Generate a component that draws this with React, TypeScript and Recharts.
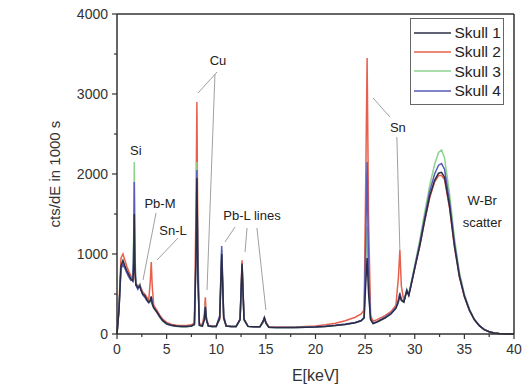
import React from 'react';
import { LineChart, Line, XAxis, YAxis, ReferenceLine, ReferenceDot, Legend } from 'recharts';

const energy = [0,0.2,0.4,0.6,0.8,1.0,1.2,1.4,1.6,1.7,1.74,1.8,1.9,2.1,2.3,2.4,2.6,2.8,3.0,3.2,3.35,3.45,3.55,3.7,4.0,4.3,4.6,5.0,5.5,6.0,6.5,7.0,7.5,7.8,7.95,8.05,8.15,8.3,8.6,8.8,8.9,9.0,9.2,9.6,10.0,10.35,10.55,10.75,11.0,11.5,12.0,12.4,12.6,12.8,13.2,13.8,14.4,14.7,14.85,15.0,15.3,16,17,18,19,20,21,22,23,24,24.6,24.9,25.05,25.2,25.35,25.55,25.8,26.2,27.0,27.6,28.1,28.35,28.5,28.65,28.9,29.2,29.4,29.7,30.0,30.5,31.0,31.5,32.0,32.4,32.7,33.0,33.5,34.0,34.5,35.0,35.5,36.0,36.5,37.0,37.5,38.0,38.5,39.0,40.0];

const skull1 = [0,300,850,920,850,790,740,690,660,900,1500,800,620,580,600,560,500,480,430,400,420,470,380,330,280,220,170,130,110,100,95,95,100,120,900,1950,700,110,100,180,330,180,100,95,95,200,1000,200,100,95,95,180,880,180,95,90,90,150,200,140,85,80,80,82,85,88,95,105,120,140,165,200,600,950,500,180,130,150,200,250,320,400,480,420,400,540,480,650,820,1100,1420,1720,1920,2010,2020,1960,1600,1100,720,470,300,180,105,55,28,12,5,2,0];

const skull2 = [0,350,950,1000,920,840,780,730,690,850,1200,750,640,600,620,580,520,500,460,430,650,900,600,360,300,240,185,145,120,110,105,105,115,140,1500,2900,1100,130,115,250,460,220,110,100,100,180,950,190,100,95,95,190,920,190,95,90,92,160,210,150,90,85,85,88,95,100,115,135,165,210,250,300,1800,3450,1400,230,160,180,230,280,360,700,1050,600,410,540,490,650,820,1100,1410,1700,1900,1980,1980,1930,1580,1090,710,465,295,178,105,55,28,12,5,2,0];

const skull3 = [0,300,800,880,830,770,720,680,700,1400,2150,1100,620,570,620,560,490,470,420,390,400,440,370,320,270,210,160,125,105,95,92,92,98,115,1000,2150,800,105,100,190,360,190,98,92,95,220,1050,220,100,92,92,170,800,170,92,88,90,140,190,130,82,78,78,80,83,87,95,105,120,140,165,200,800,1350,600,180,130,150,205,255,330,420,520,430,400,560,500,680,860,1170,1520,1850,2120,2270,2300,2200,1760,1200,770,500,315,185,108,57,30,13,5,2,0];

const skull4 = [0,300,820,870,820,760,710,670,680,1200,1900,950,610,560,610,550,490,460,420,390,410,460,380,330,275,215,165,125,105,98,95,95,100,118,950,2050,750,110,100,185,350,185,100,95,95,230,1100,230,100,95,95,180,850,180,95,90,90,150,205,140,85,80,80,82,85,90,98,108,125,145,170,210,1100,2150,800,190,135,155,210,260,330,430,510,430,400,550,490,660,840,1130,1460,1780,2000,2110,2130,2060,1660,1140,740,480,305,182,105,56,28,12,5,2,0];

const seriesNames = ['Skull 1', 'Skull 2', 'Skull 3', 'Skull 4'];
const seriesColors = ['#2b2d45', '#e8604c', '#8fd18f', '#5a5ab8'];
const xTicks = [0,2.5,5,7.5,10,12.5,15,17.5,20,22.5,25,27.5,30,32.5,35,37.5,40];
const yTicks = [0,500,1000,1500,2000,2500,3000,3500,4000];

const labels = [
  { text: 'Si', x: 1.9, y: 2300 },
  { text: 'Pb-M', x: 4.33, y: 1637 },
  { text: 'Sn-L', x: 5.64, y: 1300 },
  { text: 'Cu', x: 10.18, y: 3425 },
  { text: 'Pb-L lines', x: 13.6, y: 1487 },
  { text: 'Sn', x: 28.3, y: 2587 },
  { text: 'W-Br', x: 36.8, y: 1675 },
  { text: 'scatter', x: 36.8, y: 1400 },
];

const leaders = [
  [3.93, 1512, 2.62, 675],
  [6.15, 1200, 4.03, 925],
  [10.08, 3275, 8.16, 3012],
  [9.87, 3250, 9.07, 550],
  [11.89, 1337, 10.88, 1150],
  [13.1, 1325, 12.9, 1025],
  [14.1, 1325, 15.0, 300],
  [27.5, 2712, 25.8, 2950],
  [28.2, 2462, 28.5, 1050],
];

const data = energy.map((e, i) => ({ e, s1: skull1[i], s2: skull2[i], s3: skull3[i], s4: skull4[i] }));

const FONT = 'Liberation Sans, Arial, sans-serif';

const XTick = (props: any) => {
  const { x, y, payload } = props;
  const major = payload.value % 5 === 0;
  return (
    <g>
      <line x1={x} x2={x} y1={y} y2={y + (major ? 5 : 3)} stroke="#333" strokeWidth={1.2} />
      {major && (
        <text x={x} y={y + 20} textAnchor="middle" fontSize={14} fill="#333" fontFamily={FONT}>
          {payload.value}
        </text>
      )}
    </g>
  );
};

const YTick = (props: any) => {
  const { x, y, payload } = props;
  const major = payload.value % 1000 === 0;
  return (
    <g>
      <line x1={x} x2={x - (major ? 5 : 3)} y1={y} y2={y} stroke="#333" strokeWidth={1.2} />
      {major && (
        <text x={x - 9} y={y + 5} textAnchor="end" fontSize={14} fill="#333" fontFamily={FONT}>
          {payload.value}
        </text>
      )}
    </g>
  );
};

const renderLegend = () => (
  <div
    style={{
      border: '1px solid #666',
      background: '#fff',
      padding: '4px 2px 4px 0',
      width: 94,
      boxSizing: 'border-box',
      fontFamily: FONT,
    }}
  >
    {seriesNames.map((n, i) => (
      <div key={n} style={{ display: 'flex', alignItems: 'center', height: 19.3 }}>
        <svg width={40} height={6} style={{ display: 'block' }}>
          <line x1={3} x2={40} y1={3} y2={3} stroke={seriesColors[i]} strokeWidth={1.3} />
        </svg>
        <span style={{ flex: 1, textAlign: 'right', fontSize: 15.5, color: '#222', lineHeight: '19px' }}>{n}</span>
      </div>
    ))}
  </div>
);

export default function App() {
  return (
    <div style={{ position: 'absolute', left: 0, top: 0, width: 530, height: 388 }}>
      <LineChart width={530} height={388} data={data} margin={{ top: 14, right: 16, left: 48, bottom: 4 }}>
        <XAxis
          dataKey="e"
          type="number"
          domain={[0, 40]}
          ticks={xTicks}
          interval={0}
          tick={<XTick />}
          tickLine={false}
          tickSize={0}
          tickMargin={0}
          height={50}
          axisLine={{ stroke: '#333', strokeWidth: 1.5 }}
          label={{ value: 'E[keV]', position: 'insideBottom', offset: 3, fontSize: 16, fill: '#333', fontFamily: FONT }}
        />
        <YAxis
          type="number"
          domain={[0, 4000]}
          ticks={yTicks}
          interval={0}
          tick={<YTick />}
          tickLine={false}
          tickSize={0}
          tickMargin={0}
          width={69}
          axisLine={{ stroke: '#333', strokeWidth: 1.5 }}
          label={{ value: 'cts/dE in 1000 s', angle: -90, position: 'insideLeft', offset: 7, fontSize: 15, fill: '#333', fontFamily: FONT, style: { textAnchor: 'middle' } }}
        />
        <ReferenceLine y={4000} stroke="#333" strokeWidth={1.5} />
        <ReferenceLine x={40} stroke="#333" strokeWidth={1.5} />
        {leaders.map((l, i) => (
          <ReferenceLine
            key={'ld' + i}
            segment={[{ x: l[0], y: l[1] }, { x: l[2], y: l[3] }]}
            stroke="#a0a0a0"
            strokeWidth={1}
          />
        ))}
        <Line dataKey="s2" name="Skull 2" stroke={seriesColors[1]} strokeWidth={1.5} dot={false} isAnimationActive={false} />
        <Line dataKey="s3" name="Skull 3" stroke={seriesColors[2]} strokeWidth={1.5} dot={false} isAnimationActive={false} />
        <Line dataKey="s4" name="Skull 4" stroke={seriesColors[3]} strokeWidth={1.5} dot={false} isAnimationActive={false} />
        <Line dataKey="s1" name="Skull 1" stroke={seriesColors[0]} strokeWidth={1.5} dot={false} isAnimationActive={false} />
        {labels.map((lb, i) => (
          <ReferenceDot
            key={'lb' + i}
            x={lb.x}
            y={lb.y}
            r={0}
            stroke="none"
            fill="none"
            label={{ value: lb.text, position: 'center', fontSize: 13, fill: '#222', fontFamily: FONT }}
          />
        ))}
        <Legend
          content={renderLegend}
          layout="horizontal"
          verticalAlign="middle"
          align="center"
          wrapperStyle={{ position: 'absolute', left: 410, top: 18, width: 94, right: 'auto', bottom: 'auto' }}
        />
      </LineChart>
    </div>
  );
}
